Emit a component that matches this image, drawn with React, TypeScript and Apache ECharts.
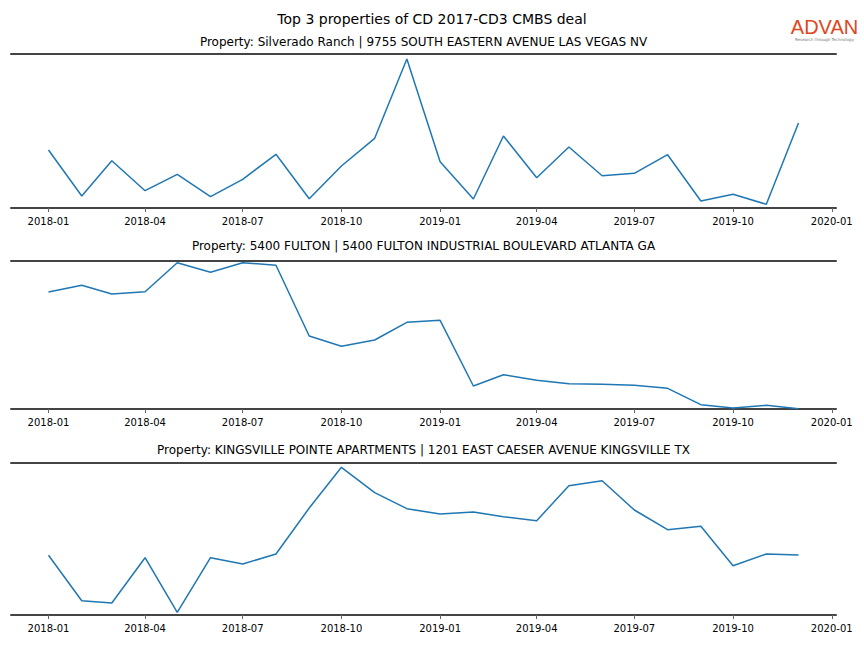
import React, { useEffect, useRef } from "react";
import * as echarts from "echarts";

const months = [
  "2018-01", "2018-02", "2018-03", "2018-04", "2018-05", "2018-06",
  "2018-07", "2018-08", "2018-09", "2018-10", "2018-11", "2018-12",
  "2019-01", "2019-02", "2019-03", "2019-04", "2019-05", "2019-06",
  "2019-07", "2019-08", "2019-09", "2019-10", "2019-11", "2019-12",
];

const tickLabels = [
  "2018-01", "2018-04", "2018-07", "2018-10",
  "2019-01", "2019-04", "2019-07", "2019-10", "2020-01",
];

const silverado = [58, 12, 47.3, 17.3, 33.7, 11.3, 28.7, 53.7, 9.3, 42, 69.7, 149, 46.3, 9, 72, 30.3, 61, 32.3, 34.7, 53.3, 7, 13.7, 3.7, 85];
const fulton = [117, 123.7, 115, 117.3, 146.3, 136.7, 146.3, 143.7, 73, 62.7, 69, 86.7, 88.7, 23, 34.3, 28.7, 25.3, 24.7, 23.7, 20.7, 4.3, 1, 3.7, 0.3];
const kingsville = [59.7, 14.3, 12, 57.3, 2.7, 57.3, 51, 61, 107, 147.7, 122.3, 106.3, 101, 103, 98.3, 94.3, 129.3, 134.3, 105, 85.3, 88.7, 49.3, 61, 60];

const seriesValues = [silverado, fulton, kingsville];
const yMax = [154, 148, 152];

const mainTitle = "Top 3 properties of CD 2017-CD3 CMBS deal";
const subTitles = [
  "Property: Silverado Ranch | 9755 SOUTH EASTERN AVENUE LAS VEGAS NV",
  "Property: 5400 FULTON | 5400 FULTON INDUSTRIAL BOULEVARD ATLANTA GA",
  "Property: KINGSVILLE POINTE APARTMENTS | 1201 EAST CAESER AVENUE KINGSVILLE TX",
];

const toTs = (s: string) => {
  const [y, m] = s.split("-").map(Number);
  return Date.UTC(y, m - 1, 1);
};

export default function App() {
  const ref = useRef<HTMLDivElement>(null);

  useEffect(() => {
    document.body.style.margin = "0";
    if (!ref.current) return;
    const chart = echarts.init(ref.current, null, { renderer: "svg" });

    const first = toTs(months[0]);
    const last = toTs(months[months.length - 1]);
    const pad = (last - first) * 0.05;
    const xMin = first - pad;
    const xMax = last + pad;
    const tickVals = tickLabels.map(toTs);

    const grids = [
      { left: 11, right: 28, top: 54, height: 154 },
      { left: 11, right: 28, top: 261, height: 148 },
      { left: 11, right: 28, top: 463, height: 152 },
    ];
    const subY = [42, 246, 450];

    const fmt = (v: number) => {
      const d = new Date(v);
      return `${d.getUTCFullYear()}-${String(d.getUTCMonth() + 1).padStart(2, "0")}`;
    };

    const xAxes: any[] = [];
    const yAxes: any[] = [];
    const series: any[] = [];
    grids.forEach((g, i) => {
      xAxes.push({
        type: "value",
        gridIndex: i,
        position: "bottom",
        min: xMin,
        max: xMax,
        axisLine: { show: true, lineStyle: { color: "#444", width: 2 } },
        axisTick: {
          show: true,
          customValues: tickVals,
          length: 4,
          lineStyle: { color: "#666", width: 1 },
        },
        axisLabel: {
          show: true,
          customValues: tickVals,
          formatter: fmt,
          margin: 8,
          color: "#000",
          fontSize: 10,
          fontFamily: "DejaVu Sans",
        },
        splitLine: { show: false },
      });
      xAxes.push({
        type: "value",
        gridIndex: i,
        position: "top",
        min: xMin,
        max: xMax,
        axisLine: { show: true, lineStyle: { color: "#444", width: 2 } },
        axisTick: { show: false },
        axisLabel: { show: false },
        splitLine: { show: false },
      });
      yAxes.push({
        type: "value",
        gridIndex: i,
        min: 0,
        max: yMax[i],
        axisLine: { show: false },
        axisTick: { show: false },
        axisLabel: { show: false },
        splitLine: { show: false },
      });
      series.push({
        type: "line",
        xAxisIndex: i * 2,
        yAxisIndex: i,
        data: months.map((m, k) => [toTs(m), seriesValues[i][k]]),
        symbol: "none",
        lineStyle: { color: "#1f77b4", width: 1.5 },
      });
    });

    const graphics: any[] = [
      {
        type: "text",
        x: 432,
        y: 19,
        style: {
          text: mainTitle,
          fontSize: 14,
          fontFamily: "DejaVu Sans",
          fill: "#000",
          textAlign: "center",
          textVerticalAlign: "middle",
        },
      },
      ...subTitles.map((t, i) => ({
        type: "text",
        x: 423.5,
        y: subY[i],
        style: {
          text: t,
          fontSize: 12,
          fontFamily: "DejaVu Sans",
          fill: "#000",
          textAlign: "center",
          textVerticalAlign: "middle",
        },
      })),
      {
        type: "text",
        x: 824.5,
        y: 27,
        style: {
          text: "ADVAN",
          fontSize: 20,
          fontWeight: 500,
          fontFamily: "Liberation Sans",
          fill: "#e0461c",
          textAlign: "center",
          textVerticalAlign: "middle",
        },
      },
      {
        type: "text",
        x: 824.5,
        y: 39.5,
        style: {
          text: "Research through Technology",
          fontSize: 4,
          fontFamily: "DejaVu Sans",
          fill: "#777",
          textAlign: "center",
          textVerticalAlign: "middle",
        },
      },
    ];

    chart.setOption({
      animation: false,
      backgroundColor: "#fff",
      grid: grids,
      xAxis: xAxes,
      yAxis: yAxes,
      series,
      graphic: graphics,
    });

    return () => chart.dispose();
  }, []);

  return <div ref={ref} style={{ width: 864, height: 648 }} />;
}
